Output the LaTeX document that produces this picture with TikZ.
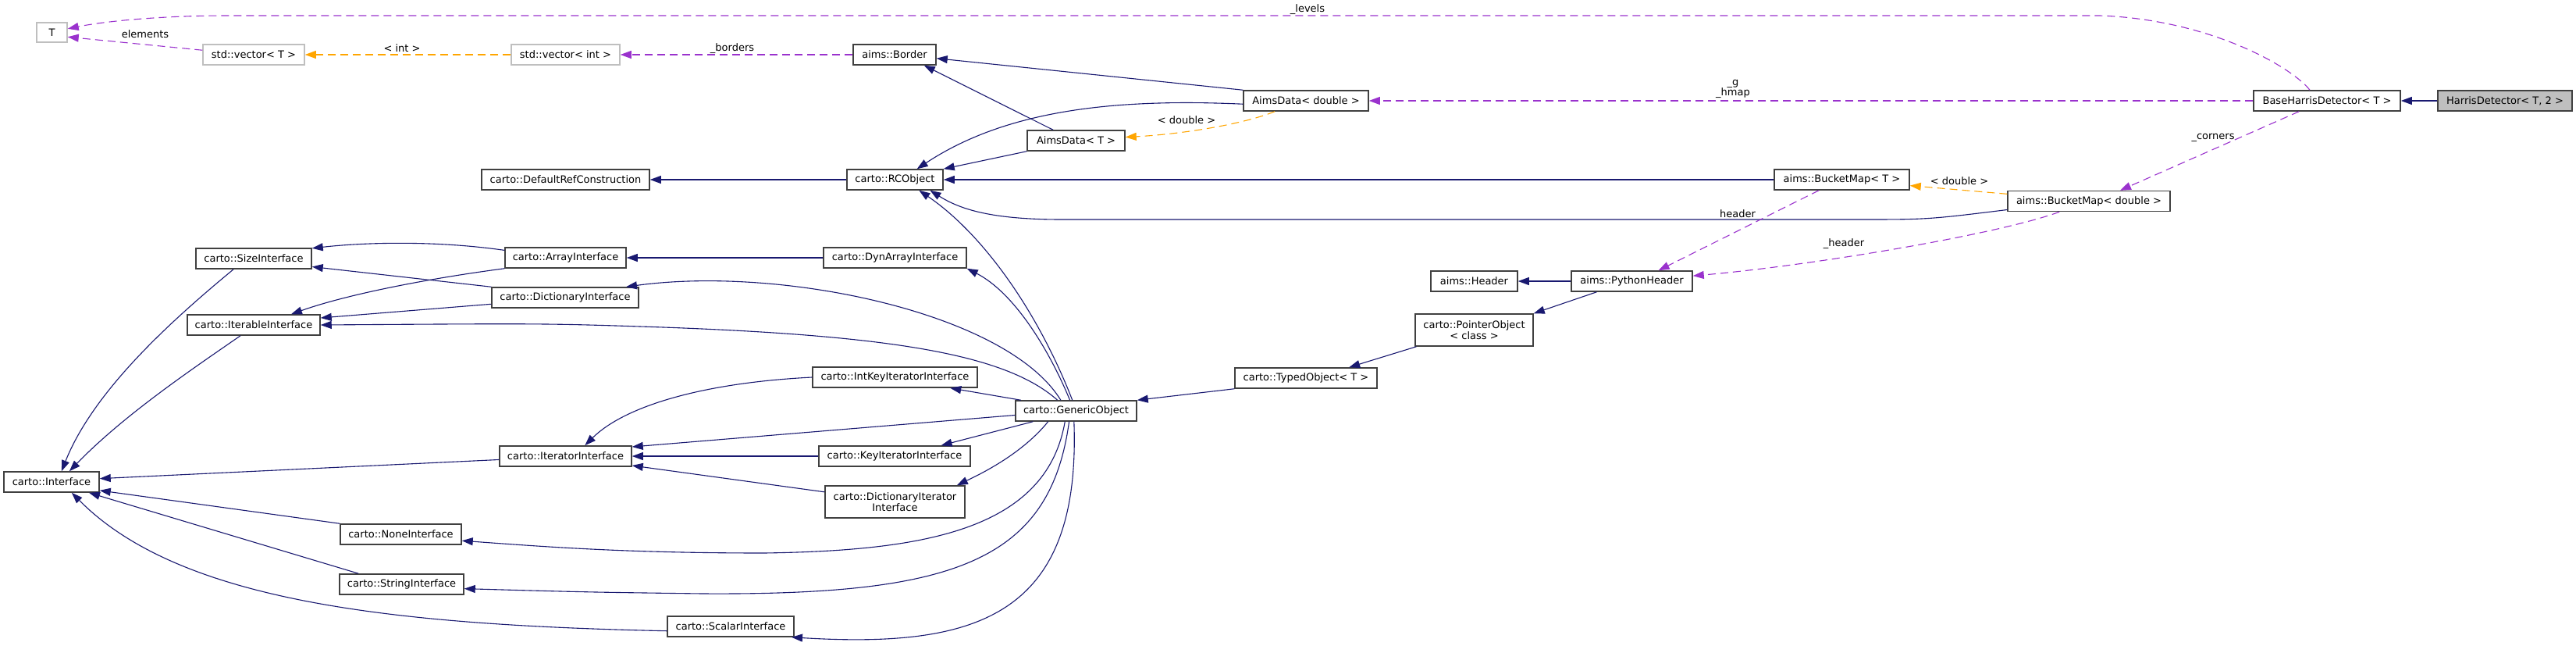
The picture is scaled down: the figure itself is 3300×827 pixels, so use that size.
\documentclass[tikz,border=0pt]{standalone}
\usepackage{fontspec}
\setmainfont{DejaVu Sans}
\usetikzlibrary{arrows.meta}

\definecolor{navy}{HTML}{191970}
\definecolor{orchid}{HTML}{9A32CD}
\definecolor{tmplorange}{HTML}{FFA500}
\definecolor{docborder}{HTML}{404040}
\definecolor{undocborder}{HTML}{BFBFBF}

\begin{document}
\begin{tikzpicture}[x=1pt,y=-1pt,
	cls/.style={draw=docborder,line width=1.5pt,fill=white,minimum height=26,inner sep=0pt,align=center,font=\fontsize{13}{14}\selectfont},
	undoc/.style={cls,draw=undocborder},
	cur/.style={cls,fill=undocborder},
	inh/.style={draw=navy,line width=1.1pt,-{Triangle[length=14pt,width=10pt]}},
	use/.style={draw=orchid,line width=1.1pt,dash pattern=on 10pt off 6pt,-{Triangle[length=14pt,width=10pt]}},
	tmpl/.style={use,draw=tmplorange},
	lbl/.style={inner sep=0pt,align=center,font=\fontsize{13}{13}\selectfont}]
	\useasboundingbox (0,0) rectangle (3300,827);

	\node [cur,minimum width=172] (hd) at (3209,129) {HarrisDetector< T, 2 >};
	\node [cls,minimum width=188] (bhd) at (2981,129) {BaseHarrisDetector< T >};
	\node [undoc,minimum width=39,minimum height=25] (t) at (66.5,41.5) {T};
	\node [undoc,minimum width=130] (vect) at (325,70) {std::vector< T >};
	\node [undoc,minimum width=139] (vecint) at (724.5,70) {std::vector< int >};
	\node [cls,minimum width=106] (border) at (1146,70) {aims::Border};
	\node [cls,minimum width=160] (aimsd) at (1673,129) {AimsData< double >};
	\node [cls,minimum width=125] (aimst) at (1378.5,180) {AimsData< T >};
	\node [cls,minimum width=215] (defref) at (724.5,230) {carto::DefaultRefConstruction};
	\node [cls,minimum width=123] (rcobj) at (1146.5,230) {carto::RCObject};
	\node [cls,minimum width=173] (bmapt) at (2359.5,230) {aims::BucketMap< T >};
	\node [cls,minimum width=208] (bmapd) at (2676,257.5) {aims::BucketMap< double >};
	\node [cls,minimum width=111] (header) at (1888.5,360) {aims::Header};
	\node [cls,minimum width=155] (pyheader) at (2090.5,360) {aims::PythonHeader};
	\node [cls,minimum width=151,minimum height=41] (ptrobj) at (1888.5,422.5) {carto::PointerObject\\< class >};
	\node [cls,minimum width=182] (typedobj) at (1673,484) {carto::TypedObject< T >};
	\node [cls,minimum width=155] (generic) at (1378.5,526) {carto::GenericObject};
	\node [cls,minimum width=148] (sizeif) at (325,331) {carto::SizeInterface};
	\node [cls,minimum width=155] (arrayif) at (724.5,330) {carto::ArrayInterface};
	\node [cls,minimum width=183] (dynif) at (1146.5,330) {carto::DynArrayInterface};
	\node [cls,minimum width=188] (dictif) at (724,381) {carto::DictionaryInterface};
	\node [cls,minimum width=170] (iterableif) at (325,416) {carto::IterableInterface};
	\node [cls,minimum width=211] (intkeyif) at (1146.5,483) {carto::IntKeyIteratorInterface};
	\node [cls,minimum width=169] (iteratorif) at (724.5,584) {carto::IteratorInterface};
	\node [cls,minimum width=194] (keyif) at (1146,584) {carto::KeyIteratorInterface};
	\node [cls,minimum width=179,minimum height=41] (dictiterif) at (1146.5,642.5) {carto::DictionaryIterator\\Interface};
	\node [cls,minimum width=122] (iface) at (66,617) {carto::Interface};
	\node [cls,minimum width=155] (noneif) at (513.5,684) {carto::NoneInterface};
	\node [cls,minimum width=159] (stringif) at (514.5,748) {carto::StringInterface};
	\node [cls,minimum width=162] (scalarif) at (936,802) {carto::ScalarInterface};

	\draw[inh] (hd.west) -- (bhd.east);
	\draw[inh] (aimsd.north west) -- (border.-5);
	\draw[inh] (aimsd.183) .. controls (1430,126) and (1290,140) .. (rcobj.26);
	\draw[inh] (aimst.155) -- (border.-20);
	\draw[inh] (aimst.south west) -- (rcobj.north east);
	\draw[inh] (rcobj.west) -- (defref.east);
	\draw[inh] (bmapt.west) -- (rcobj.east);
	\draw[inh] (bmapd.186) .. controls (2470,281) .. (2380,281) -- (1360,281) .. controls (1270,281) and (1230,268) .. (rcobj.-17);
	\draw[inh] (pyheader.west) -- (header.east);
	\draw[inh] (pyheader.197) -- (ptrobj.north east);
	\draw[inh] (ptrobj.196) -- (typedobj.14);
	\draw[inh] (typedobj.south west) -- (generic.north east);

	\draw[inh] (generic.109) .. controls (1330,400) and (1260,300) .. (rcobj.-24);
	\draw[inh] (generic.120) .. controls (1345,450) and (1300,375) .. (dynif.south east);
	\draw[inh] (generic.145) .. controls (1290,400) and (1000,340) .. (dictif.10);
	\draw[inh] (generic.150) .. controls (1290,455) and (1150,430) .. (850,419) .. controls (700,414) .. (iterableif.east);
	\draw[inh] (generic.169) -- (intkeyif.-11);
	\draw[inh] (generic.184) -- (iteratorif.8);
	\draw[inh] (generic.194) -- (keyif.13);
	\draw[inh] (generic.201) .. controls (1310,580) and (1260,605) .. (dictiterif.15);
	\draw[inh] (generic.224) .. controls (1340,680) and (1180,705) .. (979,708) .. controls (800,708) and (700,700) .. (noneif.-6);
	\draw[inh] (generic.237) .. controls (1345,720) and (1220,762) .. (900,760) .. controls (750,758) .. (stringif.-4);
	\draw[inh] (generic.259) .. controls (1385,790) and (1250,830) .. (scalarif.-10);

	\draw[inh] (sizeif.208) .. controls (220,410) and (120,500) .. (iface.47);
	\draw[inh] (iterableif.219) .. controls (250,470) and (160,530) .. (iface.31);
	\draw[inh] (iteratorif.183) -- (iface.4);
	\draw[inh] (noneif.north west) -- (iface.-10);
	\draw[inh] (stringif.166) -- (iface.-16);
	\draw[inh] (scalarif.184) .. controls (500,800) and (230,770) .. (iface.-28);
	\draw[inh] (arrayif.173) .. controls (560,308) and (470,310) .. (sizeif.10);
	\draw[inh] (arrayif.south west) .. controls (560,355) and (450,375) .. (iterableif.16);
	\draw[inh] (dictif.north west) -- (sizeif.-8);
	\draw[inh] (dictif.185) -- (iterableif.6);
	\draw[inh] (dynif.west) -- (arrayif.east);
	\draw[inh] (intkeyif.west) .. controls (900,490) and (800,520) .. (iteratorif.29);
	\draw[inh] (keyif.west) -- (iteratorif.east);
	\draw[inh] (dictiterif.172) -- (iteratorif.-8);

	\draw[use] (bhd.148) .. controls (2935,85) and (2830,25) .. (2690,20) -- (293,20) .. controls (200,20) and (130,28) .. (t.13);
	\draw[use] (vect.175) -- (t.-16);
	\draw[tmpl] (vecint.west) -- (vect.east);
	\draw[use] (border.west) -- (vecint.east);
	\draw[tmpl] (aimsd.199) .. controls (1590,160) and (1510,172) .. (aimst.4);
	\draw[use] (bhd.west) -- (aimsd.east);
	\draw[use] (bhd.201) -- (bmapd.19);
	\draw[tmpl] (bmapd.175) -- (bmapt.-5);
	\draw[use] (bmapt.205) -- (pyheader.22);
	\draw[use] (bmapd.200) .. controls (2560,300) and (2320,340) .. (pyheader.5);

	\node [lbl] (levels) at (1675,12) {\_levels};
	\node [lbl] (elements) at (186,44) {elements};
	\node [lbl] (intarg) at (515,62) {< int >};
	\node [lbl] (borders) at (938,62) {\_borders};
	\node [lbl] (dblarg) at (1520,154) {< double >};
	\node [lbl] (ghmap) at (2220,114) {\_g\\\_hmap};
	\node [lbl] (hdrlbl) at (2226,274) {header};
	\node [lbl] (dblarg2) at (2510,232) {< double >};
	\node [lbl] (corners) at (2835,176) {\_corners};
	\node [lbl] (hdrlbl2) at (2362,312) {\_header};
\end{tikzpicture}
\end{document}
